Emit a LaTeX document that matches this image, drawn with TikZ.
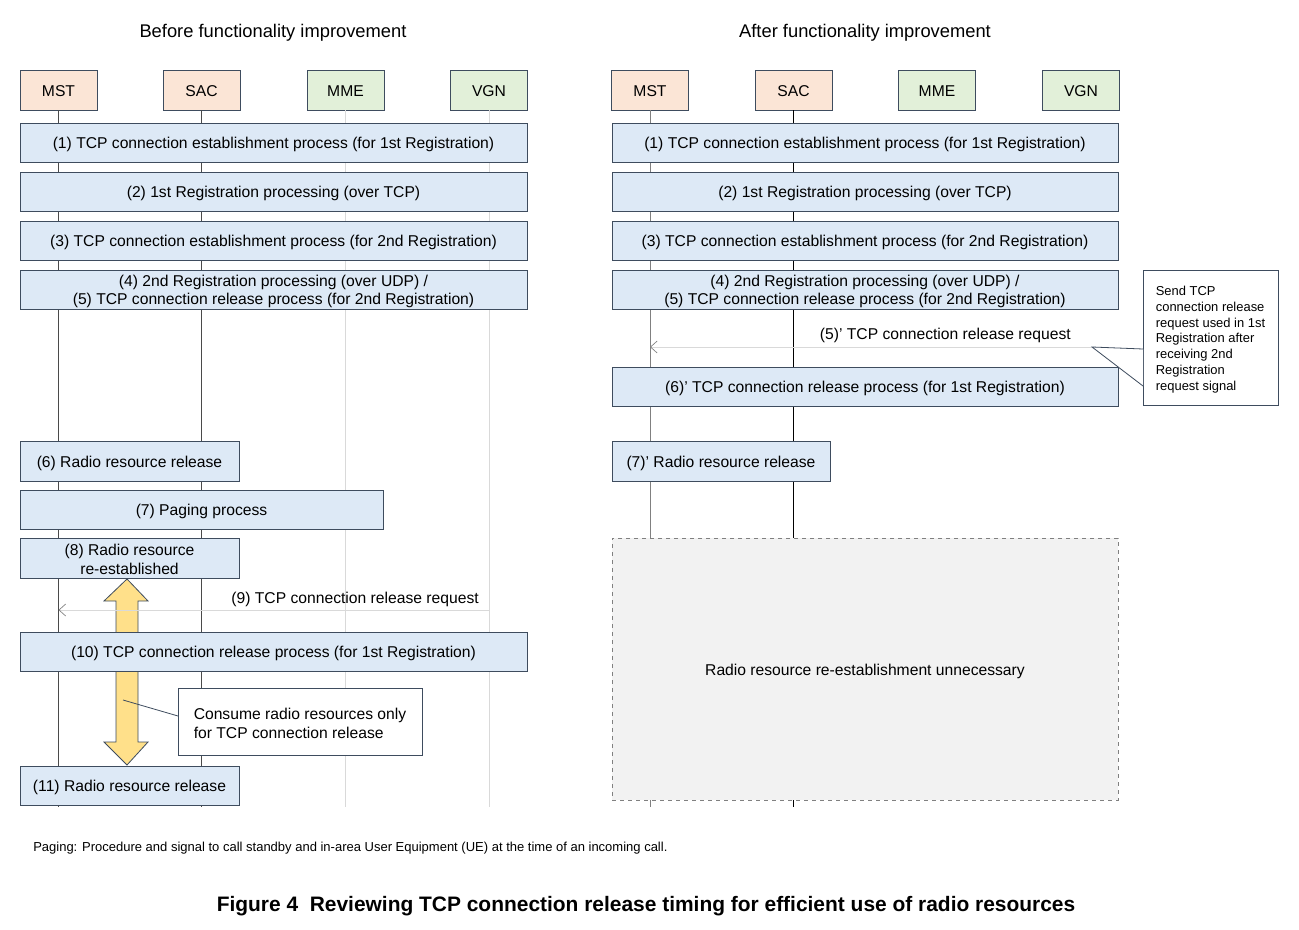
\documentclass[tikz,border=0pt]{standalone}
\usepackage{fontspec}
\setmainfont{Liberation Sans}
\usetikzlibrary{arrows.meta}
\definecolor{peach}{HTML}{FBE5D6}
\definecolor{mint}{HTML}{E2F0D9}
\definecolor{boxc}{HTML}{DDE9F6}
\definecolor{bordc}{HTML}{3E4C5E}
\definecolor{lifec}{HTML}{4A4A4A}
\definecolor{lightlife}{HTML}{D9D9D9}
\definecolor{barbc}{HTML}{808080}
\definecolor{arrowy}{HTML}{FFE08A}
\definecolor{greyfill}{HTML}{F2F2F2}
\begin{document}
\begin{tikzpicture}[x=0.75pt,y=-0.75pt,
  txt/.style={font=\fontsize{11.75}{13.5}\selectfont},
  sl/.style={text height=11.6pt, text depth=2.5pt},
  sz/.style 2 args={minimum width=#1*0.75pt, minimum height=#2*0.75pt},
  hdr/.style={draw=bordc, line width=0.6pt, sz={77}{40}, inner sep=0pt, txt, sl},
  pbox/.style={draw=bordc, line width=0.6pt, fill=boxc, inner sep=0pt, align=center, txt},
  life/.style={draw=lifec, line width=0.6pt},
  lightline/.style={draw=lightlife, line width=0.6pt},
  msg/.style={draw=lightlife, line width=0.6pt, -{Straight Barb[length=5pt,width=9pt,line width=0.5pt,color=barbc]}},
  callout/.style={draw=bordc, line width=0.6pt, fill=white, inner sep=0pt, align=left},
  title/.style={font=\fontsize{13.75}{16}\selectfont}
]
\useasboundingbox[fill=white] (0,0) rectangle (1299,930);

% titles
\node[title] (tL) at (273,32.5) {Before functionality improvement};
\node[title] (tR) at (865,32.5) {After functionality improvement};

% headers left
\node[hdr, fill=peach] (LM) at (58.5,90) {MST};
\node[hdr, fill=peach] (LS) at (201.5,90) {SAC};
\node[hdr, fill=mint] (LE) at (345.5,90) {MME};
\node[hdr, fill=mint] (LV) at (489,90) {VGN};
% headers right
\node[hdr, fill=peach] (RM) at (650,90) {MST};
\node[hdr, fill=peach] (RS) at (793.5,90) {SAC};
\node[hdr, fill=mint] (RE) at (937,90) {MME};
\node[hdr, fill=mint] (RV) at (1081,90) {VGN};

\coordinate (botL) at (0,807);
\coordinate (botR) at (0,807);

% lifelines
\draw[life] (LM.south) -- (LM.south |- botL);
\draw[life] (LS.south) -- (LS.south |- botL);
\draw[lightline] (LE.south) -- (LE.south |- botL);
\draw[lightline] (LV.south) -- (LV.south |- botL);
\draw[draw=gray, line width=0.6pt] (RM.south) -- (RM.south |- botR);
\draw[draw=black, line width=0.6pt] (RS.south) -- (RS.south |- botR);

% yellow double arrow
\draw[bordc, line width=0.6pt, fill=arrowy]
  (127,579) -- (148,601) -- (138,601) -- (138,742) -- (148,742) -- (127,765)
  -- (104,742) -- (116,742) -- (116,601) -- (104,601) -- cycle;

% left process boxes
\node[pbox, sl, sz={507}{39}] (L1) at (273.5,142.5) {(1) TCP connection establishment process (for 1st Registration)};
\node[pbox, sl, sz={507}{39}] (L2) at (273.5,191.5) {(2) 1st Registration processing (over TCP)};
\node[pbox, sl, sz={507}{39}] (L3) at (273.5,240.5) {(3) TCP connection establishment process (for 2nd Registration)};
\node[pbox, sz={507}{39}] (L4) at (273.5,289.5) {\rule{0pt}{11pt}(4) 2nd Registration processing (over UDP) /\\(5) TCP connection release process (for 2nd Registration)};
\node[pbox, sl, sz={219}{40}] (L6) at (129.5,461) {(6) Radio resource release};
\node[pbox, sl, sz={363}{39}] (L7) at (201.5,509.5) {(7) Paging process};
\node[pbox, sz={219}{40}, font=\fontsize{11.75}{14.25}\selectfont] (L8) at (129.5,558) {\rule{0pt}{11pt}(8) Radio resource\\re-established};
\node[pbox, sl, sz={507}{39}] (L10) at (273.5,651.5) {(10) TCP connection release process (for 1st Registration)};
\node[pbox, sl, sz={219}{39}] (L11) at (129.5,785.5) {(11) Radio resource release};

% (9) message
\coordinate (m9s) at (489,610);
\coordinate (m9e) at (58.5,610);
\draw[msg] (m9s) -- (m9e);
\node[txt, inner sep=0pt, anchor=east] (m9l) at (479,599) {(9) TCP connection release request};

% left callout
\node[callout, sz={244}{67}, font=\fontsize{11.75}{14.25}\selectfont] (C1) at (300,721.5) {\rule{0pt}{11pt}Consume radio resources only\\for TCP connection release};
\coordinate (c1p) at (123,700);
\coordinate (c1q) at (178,716);
\draw[bordc, line width=0.6pt] (c1p) -- (c1q);

% right process boxes
\node[pbox, sl, sz={506}{39}] (R1) at (865,142.5) {(1) TCP connection establishment process (for 1st Registration)};
\node[pbox, sl, sz={506}{39}] (R2) at (865,191.5) {(2) 1st Registration processing (over TCP)};
\node[pbox, sl, sz={506}{39}] (R3) at (865,240.5) {(3) TCP connection establishment process (for 2nd Registration)};
\node[pbox, sz={506}{39}] (R4) at (865,289.5) {\rule{0pt}{11pt}(4) 2nd Registration processing (over UDP) /\\(5) TCP connection release process (for 2nd Registration)};
\node[pbox, sl, sz={506}{39}] (R6) at (865,386.5) {(6)' TCP connection release process (for 1st Registration)};
\node[pbox, sl, sz={218}{40}] (R7) at (721,461) {(7)' Radio resource release};
\node[draw=gray, dashed, line width=0.6pt, fill=greyfill, inner sep=0pt, txt, sl, sz={506}{262}] (RX) at (865,669) {Radio resource re-establishment unnecessary};

% (5)' message
\coordinate (m5s) at (1092,347);
\coordinate (m5e) at (650,347);
\draw[msg] (m5s) -- (m5e);
\node[txt, inner sep=0pt, anchor=east] (m5l) at (1071,335) {(5)' TCP connection release request};

% right callout
\node[callout, sz={135}{135}, font=\fontsize{9.7}{11.8}\selectfont] (C2) at (1210.5,337.5) {\rule{0pt}{10pt}Send TCP\\connection release\\request used in 1st\\Registration after\\receiving 2nd\\Registration\\request signal};
\coordinate (c2a) at (1143,349);
\coordinate (c2b) at (1143,386);
\fill[white] (m5s) -- (c2a) -- (c2b) -- cycle;
\draw[bordc, line width=0.6pt] (c2a) -- (m5s) -- (c2b);

% footnote and caption
\node[anchor=west, inner sep=0pt, font=\fontsize{9.75}{11}\selectfont] (fn) at (33,848) {Paging: Procedure and signal to call standby and in-area User Equipment (UE) at the time of an incoming call.};
\node[font=\fontsize{15.7}{18}\selectfont\bfseries] (cap) at (646,906) {Figure 4\ \ Reviewing TCP connection release timing for efficient use of radio resources};
\end{tikzpicture}
\end{document}
